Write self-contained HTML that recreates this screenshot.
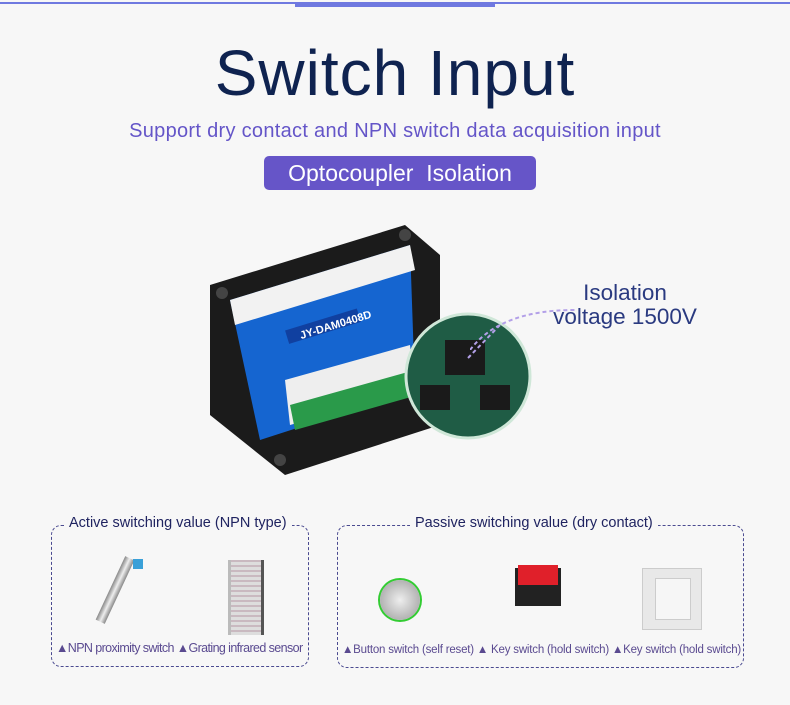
<!DOCTYPE html>
<html><head><meta charset="utf-8"><style>
body{margin:0;width:790px;height:705px;background:#f7f7f7;position:relative;overflow:hidden;font-family:"Liberation Sans",sans-serif}
.a{position:absolute}
.t{white-space:nowrap}
</style></head><body>
<div class="a" style="left:0;top:2px;width:790px;height:2px;background:#6f79e0"></div>
<div class="a" style="left:295px;top:2px;width:200px;height:5px;background:#6f79e0"></div>
<div class="a t" style="left:0;width:790px;top:36px;text-align:center;font-size:64px;color:#0f2350;line-height:74px;letter-spacing:1px">Switch Input</div>
<div class="a t" style="left:0;width:790px;top:120px;text-align:center;font-size:20px;color:#6455c8;letter-spacing:0.3px">Support dry contact and NPN switch data acquisition input</div>
<div class="a t" style="left:264px;top:156px;width:272px;height:34px;background:#6655c8;border-radius:5px;color:#fff;font-size:23px;line-height:34px;text-align:center">Optocoupler&nbsp; Isolation</div>

<!-- device -->
<svg class="a" style="left:190px;top:215px" width="350" height="280">
<polygon points="20,70 215,10 250,40 250,210 95,260 20,200" fill="#1b1b1b"/>
<polygon points="40,85 220,30 225,175 70,225" fill="#1565d0"/>
<polygon points="40,85 220,30 225,55 45,110" fill="#f2f2f2"/>
<polygon points="95,165 220,130 225,175 100,210" fill="#eee"/>
<polygon points="100,190 225,155 228,180 105,215" fill="#2a9a4a"/>
<rect x="95" y="105" width="75" height="14" fill="#1040a0" transform="rotate(-17 130 110)"/>
<text x="108" y="118" fill="#fff" font-size="11" font-weight="bold" transform="rotate(-17 130 110)">JY-DAM0408D</text>
<circle cx="32" cy="78" r="6" fill="#444"/><circle cx="90" cy="245" r="6" fill="#444"/><circle cx="215" cy="20" r="6" fill="#444"/><circle cx="240" cy="200" r="6" fill="#444"/>
</svg>
<svg class="a" style="left:400px;top:300px" width="140" height="150">
<circle cx="68" cy="76" r="62" fill="#1f5c45" stroke="#cfe7d8" stroke-width="3"/>
<rect x="45" y="40" width="40" height="35" fill="#1a1a1a"/>
<rect x="20" y="85" width="30" height="25" fill="#1a1a1a"/>
<rect x="80" y="85" width="30" height="25" fill="#1a1a1a"/>
<line x1="68" y1="58" x2="100" y2="25" stroke="#b3a0e8" stroke-width="2" stroke-dasharray="4 3"/>
</svg>
<svg class="a" style="left:470px;top:290px" width="110" height="60"><path d="M0,60 Q30,20 105,20" fill="none" stroke="#b3a0e8" stroke-width="2" stroke-dasharray="4 3"/></svg>
<div class="a t" style="left:545px;top:281px;width:160px;text-align:center;font-size:22.5px;color:#2a3a80;line-height:24px">Isolation<br>voltage 1500V</div>

<!-- panels -->
<div class="a" style="left:51px;top:525px;width:256px;height:140px;border:1.5px dashed #4a4a90;border-radius:10px"></div>
<div class="a t" style="left:64px;top:515px;padding:0 5px;background:#f7f7f7;font-size:14.5px;color:#1f2360">Active switching value (NPN type)</div>
<div class="a" style="left:337px;top:525px;width:405px;height:141px;border:1.5px dashed #4a4a90;border-radius:10px"></div>
<div class="a t" style="left:410px;top:515px;padding:0 5px;background:#f7f7f7;font-size:14.5px;color:#1f2360">Passive switching value (dry contact)</div>

<div class="a" style="left:110px;top:555px;width:10px;height:70px;background:linear-gradient(90deg,#888,#eee,#888);transform:rotate(25deg)"></div>
<div class="a" style="left:133px;top:559px;width:10px;height:10px;background:#3aa0d8"></div>
<div class="a" style="left:228px;top:560px;width:30px;height:75px;background:repeating-linear-gradient(0deg,#ddd 0 3px,#c9b9c0 3px 5px);border-left:3px solid #bbb;border-right:3px solid #555"></div>
<div class="a" style="left:380px;top:580px;width:40px;height:40px;border-radius:50%;background:radial-gradient(#eee,#999);box-shadow:0 0 0 2px #3c3"></div>
<div class="a" style="left:515px;top:568px;width:46px;height:38px;background:#222"></div>
<div class="a" style="left:518px;top:565px;width:40px;height:20px;background:#e0202a"></div>
<div class="a" style="left:642px;top:568px;width:58px;height:60px;background:#e8e8e8;border:1px solid #ccc"></div>
<div class="a" style="left:655px;top:578px;width:34px;height:40px;background:#f6f6f6;border:1px solid #ccc"></div>

<div class="a t" style="left:56px;top:641px;font-size:12.5px;color:#5a4a90;letter-spacing:-0.6px">▲NPN proximity switch ▲Grating infrared sensor</div>
<div class="a t" style="left:342px;top:644px;font-size:11.5px;color:#5a4a90;letter-spacing:-0.2px">▲Button switch (self reset) ▲ Key switch (hold switch) ▲Key switch (hold switch)</div>
</body></html>
